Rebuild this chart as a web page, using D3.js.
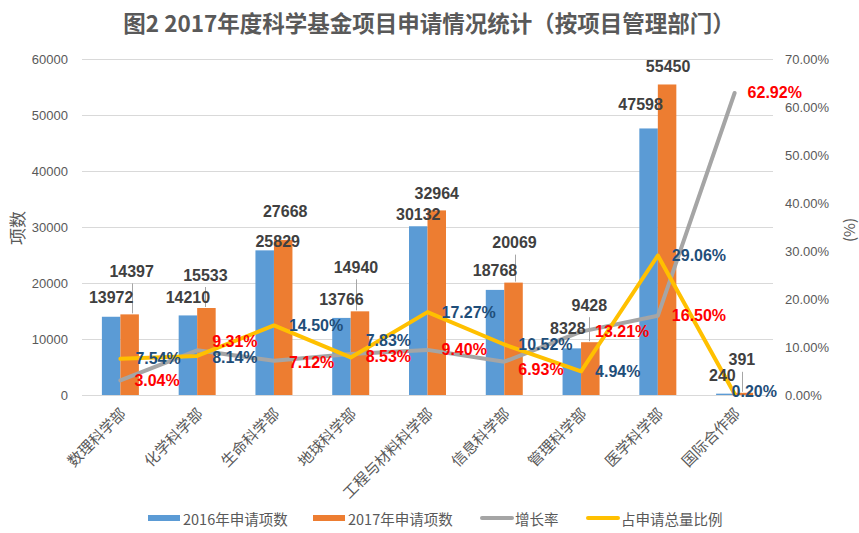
<!DOCTYPE html>
<html><head><meta charset="utf-8">
<script src="https://cdn.jsdelivr.net/npm/d3@7"></script>
<style>
html,body{margin:0;padding:0;background:#fff;}
svg{display:block;}
</style>
</head><body>
<svg id="chart" width="859" height="533"></svg>
<script>
// ---- data ----
const categories = ['数理科学部','化学科学部','生命科学部','地球科学部','工程与材料科学部','信息科学部','管理科学部','医学科学部','国际合作部'];
const apply2016 = [13972,14210,25829,13766,30132,18768,8328,47598,240];
const apply2017 = [14397,15533,27668,14940,32964,20069,9428,55450,391];
const growthRate = [3.04,9.31,7.12,8.53,9.40,6.93,13.21,16.50,62.92];
const shareOfTotal = [7.54,8.14,14.50,7.83,17.27,10.52,4.94,29.06,0.20];
const leftTicks = [0,10000,20000,30000,40000,50000,60000];
const rightTicks = [0,10,20,30,40,50,60,70];
const seriesNames = ['2016年申请项数','2017年申请项数','增长率','占申请总量比例'];
const titleText = '图2 2017年度科学基金项目申请情况统计（按项目管理部门）';
const leftAxisTitle = '项数';
const rightAxisTitle = '(%)';

// ---- layout (label placement tweaks, not data) ----
const label2016Shift = [[0,-19],[0,-18],[13,-9],[0,-18],[0,-12],[0,-19],[-4,-20],[-8,-24],[-3,-18]];
const label2017Shift = [[2,-43],[-1,-33],[2,-29],[-4,-44],[0,-17],[1,-40],[-1,-37],[1,-18],[-2,-33]];
const leaderLine = [1,1,0,1,0,1,1,0,1];
const growthNudge = [[14,0],[15,-9],[15,2],[15,2],[14,0],[14,8],[14,0],[14,0],[13,0]];
const shareNudge = [[15,0],[15,2],[15,0],[15,-17],[14,0],[14,0],[14,0],[14,0],[-3,-3]];

const colors = {b16:'#5B9BD5', b17:'#ED7D31', growth:'#A5A5A5', share:'#FFC000'};
const svg = d3.select('#chart');
const plot = {left:82, right:773, top:59, bottom:395};
const txtFont = '"Liberation Sans", Arial, sans-serif';
const cjkFont = '"Noto Sans CJK SC", "Noto Sans", sans-serif';

const x0 = d3.scaleBand().domain(categories).range([plot.left, plot.right]).padding(0);
const x1 = d3.scaleBand().domain(['y2016','y2017']).range([-18.5, 18.5]).padding(0);
const y = d3.scaleLinear().domain([0,60000]).range([plot.bottom, plot.top]);
const y2 = d3.scaleLinear().domain([0,70]).range([plot.bottom, plot.top]);
const cx = c => x0(c) + x0.bandwidth()/2;

// title
svg.append('text').attr('x', 429).attr('y', 22).attr('text-anchor','middle')
  .attr('dominant-baseline','central')
  .style('font-family', cjkFont).style('font-size','22.5px').style('font-weight','bold')
  .attr('fill','#595959').text(titleText);

// gridlines
svg.append('g').selectAll('line').data(leftTicks).join('line')
  .attr('x1', plot.left).attr('x2', plot.right)
  .attr('y1', d => Math.round(y(d))+0.5).attr('y2', d => Math.round(y(d))+0.5)
  .attr('stroke','#D9D9D9').attr('stroke-width',1);

// left axis
const leftAxis = d3.axisLeft(y).tickValues(leftTicks).tickSize(0).tickPadding(14).tickFormat(d3.format('d'));
const gl = svg.append('g').attr('transform',`translate(${plot.left},0)`).call(leftAxis);
gl.select('.domain').remove();
gl.selectAll('text').style('font-family', txtFont).style('font-size','13px').attr('fill','#595959');

// right axis
const rightAxis = d3.axisRight(y2).tickValues(rightTicks).tickSize(0).tickPadding(12)
  .tickFormat(d => d.toFixed(2) + '%');
const gr = svg.append('g').attr('transform',`translate(${plot.right},0)`).call(rightAxis);
gr.select('.domain').remove();
gr.selectAll('text').style('font-family', txtFont).style('font-size','13px').attr('fill','#595959');

// axis titles
svg.append('text').attr('transform','translate(16,228) rotate(-90)').attr('text-anchor','middle')
  .attr('dominant-baseline','central').style('font-family', cjkFont).style('font-size','17px')
  .attr('fill','#595959').text(leftAxisTitle);
svg.append('text').attr('transform','translate(848,230) rotate(-90)').attr('text-anchor','middle')
  .attr('dominant-baseline','central').style('font-family', cjkFont).style('font-size','15px')
  .attr('fill','#595959').text(rightAxisTitle);

// bars
const bars = svg.append('g');
bars.selectAll('rect.b16').data(categories).join('rect').attr('class','b16')
  .attr('x', c => cx(c) + x1('y2016')).attr('width', x1.bandwidth())
  .attr('y', (c,i) => y(apply2016[i])).attr('height', (c,i) => y(0) - y(apply2016[i]))
  .attr('fill', colors.b16);
bars.selectAll('rect.b17').data(categories).join('rect').attr('class','b17')
  .attr('x', c => cx(c) + x1('y2017')).attr('width', x1.bandwidth())
  .attr('y', (c,i) => y(apply2017[i])).attr('height', (c,i) => y(0) - y(apply2017[i]))
  .attr('fill', colors.b17);

// x labels
svg.append('g').selectAll('text').data(categories).join('text')
  .attr('transform', c => `translate(${cx(c)+2},${plot.bottom+15}) rotate(-45)`)
  .attr('text-anchor','end').attr('dominant-baseline','central')
  .style('font-family', cjkFont).style('font-size','15px').attr('fill','#595959')
  .text(c => c);

// lines
const lineGen = arr => d3.line().x((c,i) => cx(c)).y((c,i) => y2(arr[i]))(categories);
svg.append('path').attr('d', lineGen(growthRate)).attr('fill','none')
  .attr('stroke', colors.growth).attr('stroke-width',4).attr('stroke-linejoin','round').attr('stroke-linecap','round');
svg.append('path').attr('d', lineGen(shareOfTotal)).attr('fill','none')
  .attr('stroke', colors.share).attr('stroke-width',4).attr('stroke-linejoin','round').attr('stroke-linecap','round');

// leader lines for 2017 labels
const lbl = svg.append('g');
categories.forEach((c,i) => {
  if (!leaderLine[i]) return;
  const bx = cx(c) + x1('y2017') + x1.bandwidth()/2 + label2017Shift[i][0];
  const ly = y(apply2017[i]) + label2017Shift[i][1] + 12;
  lbl.append('line').attr('x1', Math.round(bx)+0.5).attr('x2', Math.round(bx)+0.5)
    .attr('y1', ly).attr('y2', y(apply2017[i]) - 1)
    .attr('stroke','#A6A6A6').attr('stroke-width',1);
});

// bar value labels
const valStyle = s => s.style('font-family', txtFont).style('font-size','16px').style('font-weight','bold')
  .attr('fill','#404040').attr('text-anchor','middle').attr('dominant-baseline','central');
lbl.selectAll('text.v16').data(categories).join('text').attr('class','v16')
  .attr('x', (c,i) => cx(c) + x1('y2016') + x1.bandwidth()/2 + label2016Shift[i][0])
  .attr('y', (c,i) => y(apply2016[i]) + label2016Shift[i][1])
  .call(valStyle).text((c,i) => apply2016[i]);
lbl.selectAll('text.v17').data(categories).join('text').attr('class','v17')
  .attr('x', (c,i) => cx(c) + x1('y2017') + x1.bandwidth()/2 + label2017Shift[i][0])
  .attr('y', (c,i) => y(apply2017[i]) + label2017Shift[i][1])
  .call(valStyle).text((c,i) => apply2017[i]);

// percent labels
const pctStyle = (s,col) => s.style('font-family', txtFont).style('font-size','16px').style('font-weight','bold')
  .attr('fill', col).attr('text-anchor','start').attr('dominant-baseline','central');
lbl.selectAll('text.share').data(categories).join('text').attr('class','share')
  .attr('x', (c,i) => cx(c) + shareNudge[i][0])
  .attr('y', (c,i) => y2(shareOfTotal[i]) + shareNudge[i][1])
  .call(pctStyle, '#1F4E79').text((c,i) => shareOfTotal[i].toFixed(2) + '%');
lbl.selectAll('text.growth').data(categories).join('text').attr('class','growth')
  .attr('x', (c,i) => cx(c) + growthNudge[i][0])
  .attr('y', (c,i) => y2(growthRate[i]) + growthNudge[i][1])
  .call(pctStyle, '#FF0000').text((c,i) => growthRate[i].toFixed(2) + '%');

// legend
const legend = svg.append('g');
const legendItems = [
  {name: seriesNames[0], color: colors.b16, type:'rect', x:148},
  {name: seriesNames[1], color: colors.b17, type:'rect', x:313},
  {name: seriesNames[2], color: colors.growth, type:'line', x:480},
  {name: seriesNames[3], color: colors.share, type:'line', x:586}
];
legendItems.forEach(it => {
  if (it.type === 'rect') {
    legend.append('rect').attr('x', it.x).attr('y', 515).attr('width', 32).attr('height', 6).attr('fill', it.color);
  } else {
    legend.append('line').attr('x1', it.x+2).attr('x2', it.x+32).attr('y1', 518).attr('y2', 518)
      .attr('stroke', it.color).attr('stroke-width', 4).attr('stroke-linecap','round');
  }
  legend.append('text').attr('x', it.x + 35).attr('y', 518).attr('dominant-baseline','central')
    .style('font-family', cjkFont).style('font-size','14.5px').attr('fill','#595959').text(it.name);
});
</script>
</body></html>
